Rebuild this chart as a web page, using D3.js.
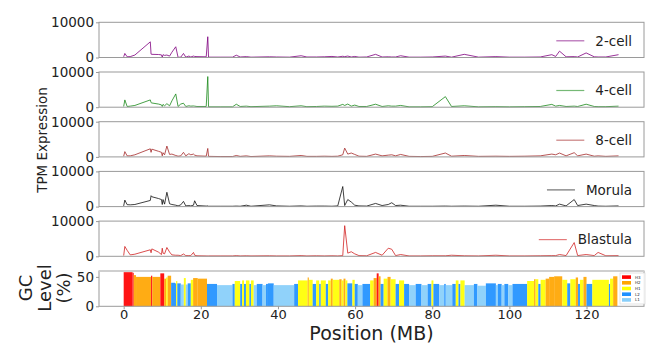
<!DOCTYPE html>
<html>
<head>
<meta charset="utf-8">
<script src="https://cdn.jsdelivr.net/npm/d3@7"></script>
<style>
  body { margin: 0; background: #fff; }
  text { font-family: "DejaVu Sans", sans-serif; fill: #222; }
</style>
</head>
<body>
<svg id="chart" width="646" height="345"></svg>
<script>
// Gene positions (MB) shared by every stage
var positions = [0, 0.3, 0.9, 1.7, 2.9, 6.9, 7.1, 7.3, 9.0, 9.8, 10.0, 10.2, 10.6, 11.2, 11.9, 12.5,
  13.5, 14.1, 14.8, 15.5, 16.1, 16.9, 17.4, 18.1, 18.4, 19.0, 21.4, 21.8, 22.0, 25.0, 28.2, 29.2,
  30.2, 31.8, 33.0, 37.8, 39.6, 43.0, 46.0, 47.5, 50.0, 52.0, 54.0, 55.5, 56.8, 57.3, 58.1, 59.0,
  59.9, 61.0, 63.0, 65.3, 67.0, 68.6, 69.5, 70.5, 71.8, 74.0, 77.0, 80.0, 83.4, 85.0, 88.3, 92.0,
  96.5, 100.0, 104.0, 108.0, 111.0, 112.0, 113.0, 114.7, 116.8, 117.7, 119.9, 122.0, 123.0, 125.0, 128.3];

// TPM expression per stage, one value per position
var cell2 = [200, 1150, 200, 250, 700, 4450, 950, 900, 850, 750, 50, 800, 600, 700, 400, 1500,
  3050, 50, 100, 1150, 100, 400, 150, 400, 300, 250, 200, 5900, 100, 100, 100, 650,
  150, 250, 100, 200, 150, 100, 500, 150, 150, 200, 300, 150, 350, 250, 400, 150,
  300, 100, 150, 900, 150, 200, 150, 150, 500, 100, 100, 150, 400, 100, 900, 100,
  250, 100, 100, 150, 800, 300, 1800, 200, 250, 150, 1300, 200, 150, 150, 800];
var cell4 = [200, 2070, 200, 300, 500, 2070, 1300, 1200, 900, 660, 200, 800, 400, 1000, 400, 1800,
  3770, 200, 900, 1130, 200, 400, 300, 350, 300, 200, 200, 8700, 100, 100, 100, 850,
  200, 300, 150, 300, 400, 150, 400, 150, 200, 300, 250, 300, 800, 500, 900, 300,
  600, 200, 200, 850, 200, 400, 300, 300, 500, 100, 100, 150, 3000, 200, 400, 100,
  150, 100, 150, 200, 800, 300, 500, 200, 300, 200, 850, 200, 150, 150, 300];
var cell8 = [190, 1500, 300, 300, 600, 2300, 1300, 2200, 1600, 1300, 300, 1200, 600, 3080, 700, 800,
  400, 200, 300, 1300, 300, 900, 600, 800, 500, 300, 200, 2400, 150, 100, 100, 400,
  150, 300, 100, 300, 200, 150, 400, 150, 150, 200, 150, 200, 600, 2500, 800, 1100,
  700, 200, 150, 800, 300, 500, 600, 300, 700, 150, 100, 150, 1100, 200, 400, 150,
  200, 150, 200, 300, 800, 600, 1100, 300, 1200, 300, 800, 200, 300, 150, 300];
var morula = [200, 1850, 550, 500, 600, 1750, 3100, 2800, 2300, 2000, 600, 2000, 700, 4070, 800, 600,
  400, 200, 500, 1480, 200, 300, 200, 400, 1660, 300, 150, 200, 100, 100, 100, 150,
  100, 400, 100, 500, 200, 100, 200, 100, 150, 150, 100, 200, 5700, 300, 2000, 1300,
  400, 200, 150, 900, 300, 600, 1100, 300, 400, 100, 100, 100, 150, 100, 150, 100,
  400, 100, 100, 150, 300, 200, 700, 200, 2000, 300, 700, 300, 150, 100, 200];
var blastula = [200, 2800, 1700, 400, 600, 1850, 1000, 2100, 1200, 500, 2300, 900, 700, 2500, 1200, 400,
  300, 300, 200, 650, 200, 200, 200, 1100, 300, 150, 100, 100, 100, 100, 100, 200,
  100, 150, 100, 150, 100, 100, 200, 100, 150, 100, 150, 100, 200, 8700, 900, 1300,
  700, 200, 150, 1100, 300, 2300, 2000, 200, 500, 100, 100, 150, 150, 300, 150, 100,
  300, 100, 100, 150, 200, 200, 500, 200, 3900, 200, 500, 200, 1100, 150, 200];

var stageNames = ["2-cell", "4-cell", "8-cell", "Morula", "Blastula"];
var stageValues = [cell2, cell4, cell8, morula, blastula];
var stageColors = ["#800080", "#1a8a1a", "#a52a2a", "#111111", "#d22222"];

var xTicks = [0, 20, 40, 60, 80, 100, 120];
var tpmTicks = [0, 10000];
var gcTicks = [0, 50];

// Isochore segments: [start MB, end MB, family, GC %]
var gcSegments = [
  [0, 2.3, "H3", 58], [2.3, 2.6, "H3", 57], [2.6, 3.2, "H2", 53], [3.2, 7.1, "H2", 50],
  [7.1, 7.4, "H3", 52], [7.4, 9.5, "H2", 50], [9.5, 10.5, "H3", 56], [10.5, 11.0, "H2", 47],
  [11.0, 11.4, "H1", 49], [11.4, 12.3, "H2", 52], [12.3, 13.3, "L2", 40], [13.3, 13.6, "L2", 39],
  [13.6, 13.9, "H1", 43], [13.9, 14.8, "L2", 39], [14.8, 15.6, "L1", 37], [15.6, 16.1, "H1", 48],
  [16.1, 16.6, "L1", 37], [16.6, 17.4, "L2", 39], [17.4, 18.0, "H1", 45], [18.0, 19.2, "H2", 48],
  [19.2, 21.6, "H2", 47], [21.6, 24.2, "L2", 38], [24.2, 28.2, "L1", 36], [28.2, 28.8, "L2", 38],
  [28.8, 30.2, "H1", 43], [30.2, 30.7, "L2", 38], [30.7, 31.2, "H1", 44], [31.2, 31.7, "L2", 38],
  [31.7, 32.6, "H1", 44], [32.6, 33.0, "L2", 38], [33.0, 33.7, "H1", 44], [33.7, 34.5, "L1", 36],
  [34.5, 36.0, "L2", 38], [36.0, 36.9, "L1", 36], [36.9, 37.4, "L2", 38], [37.4, 38.9, "L2", 39],
  [38.9, 44.2, "L1", 36], [44.2, 45.2, "L2", 38], [45.2, 47.7, "H1", 44], [47.7, 48.0, "H2", 49],
  [48.0, 49.0, "H1", 45], [49.0, 49.9, "L2", 38], [49.9, 50.7, "H1", 44], [50.7, 51.1, "L2", 38],
  [51.1, 52.4, "H1", 44], [52.4, 53.0, "L2", 38], [53.0, 53.7, "H1", 44], [53.7, 54.2, "H2", 47],
  [54.2, 55.9, "H1", 45], [55.9, 56.5, "H2", 46], [56.5, 57.0, "H1", 44], [57.0, 57.5, "H2", 47],
  [57.5, 58.0, "H1", 44], [58.0, 59.3, "L2", 39], [59.3, 59.9, "H1", 45], [59.9, 60.7, "L2", 38],
  [60.7, 61.9, "L1", 36], [61.9, 63.9, "L2", 38], [63.9, 64.8, "H1", 44], [64.8, 65.6, "H2", 48],
  [65.6, 66.1, "H3", 56], [66.1, 66.6, "H2", 51], [66.6, 67.4, "L2", 38], [67.4, 68.4, "H1", 47],
  [68.4, 69.2, "H2", 50], [69.2, 70.5, "H1", 46], [70.5, 71.4, "L2", 38], [71.4, 72.7, "H1", 44],
  [72.7, 74.0, "L2", 38], [74.0, 75.7, "L1", 36], [75.7, 77.2, "L2", 38], [77.2, 78.8, "L1", 36],
  [78.8, 79.8, "L2", 38], [79.8, 80.3, "H1", 44], [80.3, 81.8, "L2", 38], [81.8, 83.1, "L1", 36],
  [83.1, 83.5, "L2", 38], [83.5, 85.2, "L1", 36], [85.2, 86.1, "L2", 38], [86.1, 86.8, "H1", 44],
  [86.8, 87.3, "L2", 38], [87.3, 88.4, "H1", 44], [88.4, 90.8, "L1", 36], [90.8, 91.7, "L2", 38],
  [91.7, 93.9, "L1", 35], [93.9, 96.5, "L2", 39], [96.5, 97.0, "L1", 36], [97.0, 98.0, "L2", 38],
  [98.0, 98.7, "L1", 36], [98.7, 99.7, "L2", 38], [99.7, 100.8, "L1", 36], [100.8, 104.6, "L2", 38],
  [104.6, 106.4, "H1", 43], [106.4, 106.8, "H2", 46], [106.8, 107.5, "H1", 46], [107.5, 108.1, "L2", 38],
  [108.1, 109.4, "H1", 45], [109.4, 110.3, "H2", 47], [110.3, 111.6, "H2", 50], [111.6, 113.7, "H2", 51],
  [113.7, 115.0, "H1", 45], [115.0, 115.8, "L2", 39], [115.8, 117.2, "H1", 46], [117.2, 117.8, "H2", 49],
  [117.8, 118.3, "L2", 38], [118.3, 119.2, "H1", 45], [119.2, 120.0, "H2", 50], [120.0, 121.5, "L2", 38],
  [121.5, 125.8, "H1", 45], [125.8, 126.1, "L2", 38], [126.1, 126.9, "H1", 47], [126.9, 128.0, "H2", 51]
];
var gcClasses = ["H3", "H2", "H1", "L2", "L1"];
var gcColors = ["#ff0000", "#ffa500", "#ffff00", "#1e90ff", "#87cefa"];

// ---- layout ----
var left = 99, right = 644;
var panelTop0 = 22.3, panelStep = 49.7, panelH = 35.2;
var gcTop = 271, gcH = 35.3;
var spineColor = "#9a9a9a";

var svg = d3.select("#chart");
var x = d3.scaleLinear().domain([-6.4, 134.9]).range([left, right]);
var gcColor = d3.scaleOrdinal().domain(gcClasses).range(gcColors);

function drawFrame(g, h) {
  g.append("rect")
    .attr("x", left).attr("y", 0)
    .attr("width", right - left).attr("height", h)
    .attr("fill", "none").attr("stroke", spineColor).attr("stroke-width", 1);
}

function drawYAxis(g, y, ticks) {
  var ax = d3.axisLeft(y).tickValues(ticks).tickSize(3).tickPadding(2).tickFormat(d3.format("d"));
  var a = g.append("g").attr("transform", "translate(" + left + ",0)").call(ax);
  a.select(".domain").remove();
  a.selectAll(".tick line").attr("stroke", spineColor);
  a.selectAll(".tick text").attr("font-size", "13.5px").attr("fill", "#222")
    .attr("font-family", "DejaVu Sans, sans-serif");
}

// expression panels
stageNames.forEach(function(name, i) {
  var top = panelTop0 + i * panelStep;
  var g = svg.append("g").attr("transform", "translate(0," + top + ")");
  var y = d3.scaleLinear().domain([0, 10000]).range([panelH, 0]);

  var pts = positions.map(function(p, k) { return [p, stageValues[i][k]]; });
  var line = d3.line().x(function(d) { return x(d[0]); }).y(function(d) { return y(d[1]); });

  g.append("path")
    .datum(pts)
    .attr("d", line)
    .attr("fill", "none")
    .attr("stroke", stageColors[i])
    .attr("stroke-opacity", 0.8)
    .attr("stroke-width", 1);

  drawFrame(g, panelH);
  drawYAxis(g, y, tpmTicks);

  // legend, right aligned
  var ly = 18.5;
  var lt = g.append("text")
    .attr("x", 632).attr("y", ly)
    .attr("dy", "0.35em")
    .attr("text-anchor", "end")
    .attr("font-size", "13.5px")
    .text(name);
  var tw = lt.node().getComputedTextLength();
  g.append("line")
    .attr("x1", 632 - tw - 39).attr("x2", 632 - tw - 11)
    .attr("y1", ly).attr("y2", ly)
    .attr("stroke", stageColors[i]).attr("stroke-opacity", 0.6).attr("stroke-width", 1.2);
});

// GC panel
var gg = svg.append("g").attr("transform", "translate(0," + gcTop + ")");
var yGC = d3.scaleLinear().domain([0, 60]).range([gcH, 0]);

gg.selectAll("rect.seg")
  .data(gcSegments)
  .enter()
  .append("rect")
    .attr("class", "seg")
    .attr("x", function(d) { return x(d[0]); })
    .attr("width", function(d) { return Math.max(0.8, x(d[1]) - x(d[0])); })
    .attr("y", function(d) { return yGC(d[3]); })
    .attr("height", function(d) { return gcH - yGC(d[3]); })
    .attr("fill", function(d) { return gcColor(d[2]); })
    .attr("fill-opacity", 0.92);

drawFrame(gg, gcH);
gg.append("line").attr("x1", left).attr("x2", right).attr("y1", 0).attr("y2", 0)
  .attr("stroke", "#cfcfcf").attr("stroke-width", 2);
drawYAxis(gg, yGC, gcTicks);

var xa = gg.append("g").attr("transform", "translate(0," + gcH + ")")
  .call(d3.axisBottom(x).tickValues(xTicks).tickSize(3).tickPadding(0));
xa.select(".domain").remove();
xa.selectAll(".tick line").attr("stroke", spineColor);
xa.selectAll(".tick text").attr("font-size", "13px").attr("fill", "#222")
  .attr("font-family", "DejaVu Sans, sans-serif");

// GC legend
var lg = gg.append("g").attr("transform", "translate(620,2)");
lg.append("rect").attr("x", 0).attr("y", 0).attr("width", 25).attr("height", 31)
  .attr("fill", "#fff").attr("fill-opacity", 0.85).attr("stroke", "#d0d0d0").attr("stroke-width", 0.6);
gcClasses.forEach(function(c, k) {
  lg.append("rect").attr("x", 2).attr("y", 2.3 + k * 5.7).attr("width", 9).attr("height", 3.6)
    .attr("fill", gcColors[k]);
  lg.append("text").attr("x", 15).attr("y", 4.1 + k * 5.7).attr("dy", "0.35em")
    .attr("font-size", "4px").text(c);
});

// axis titles
svg.append("text")
  .attr("transform", "translate(47,140) rotate(-90)")
  .attr("text-anchor", "middle")
  .attr("font-size", "13.5px")
  .text("TPM Expression");

["GC", "Level", "(%)"].forEach(function(s, k) {
  svg.append("text")
    .attr("transform", "translate(" + (32 + k * 19) + ",288) rotate(-90)")
    .attr("text-anchor", "middle")
    .attr("font-size", "18px")
    .text(s);
});

svg.append("text")
  .attr("x", (left + right) / 2).attr("y", 340.3)
  .attr("text-anchor", "middle")
  .attr("font-size", "19px")
  .text("Position (MB)");
</script>
</body>
</html>
